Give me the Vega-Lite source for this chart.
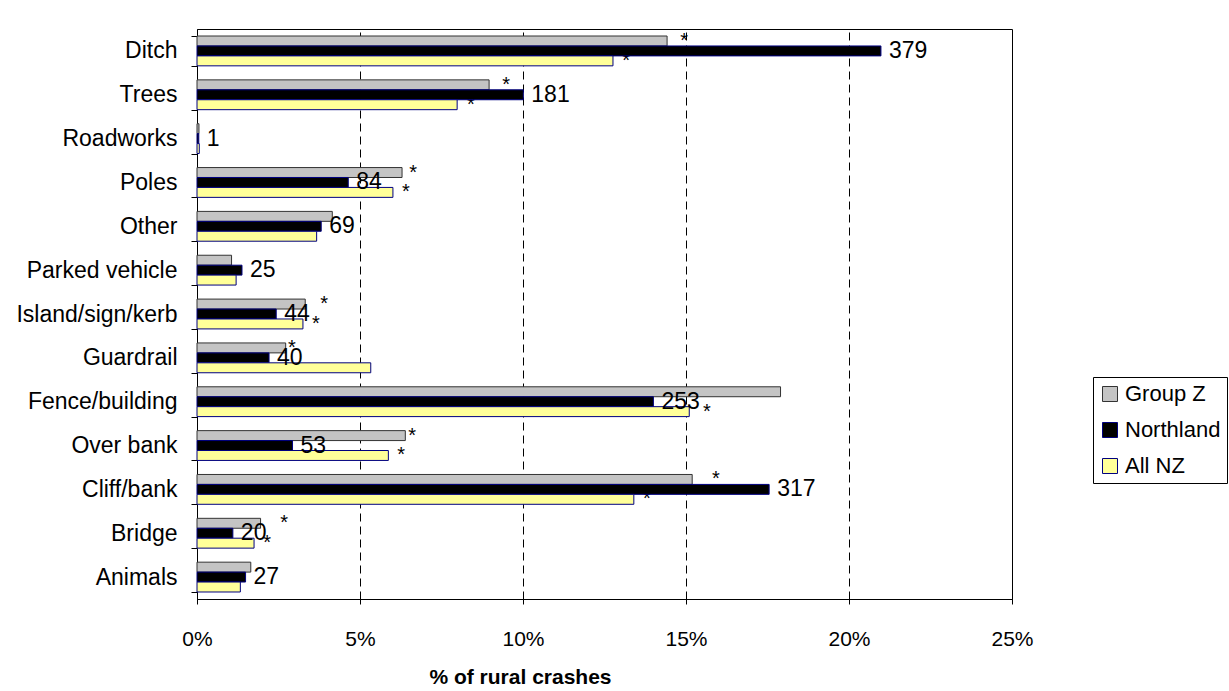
{
  "$schema": "https://vega.github.io/schema/vega-lite/v6.json",
  "width": 815,
  "height": 570,
  "autosize": {"type": "none"},
  "padding": {"left": 197, "top": 29, "right": 217, "bottom": 92},
  "background": "#ffffff",
  "config": {
    "font": "Liberation Sans",
    "view": {"stroke": "#000000", "strokeWidth": 1},
    "axis": {
      "domainColor": "#000000",
      "tickColor": "#000000",
      "labelColor": "#000000",
      "titleColor": "#000000",
      "labelFont": "Liberation Sans",
      "titleFont": "Liberation Sans",
      "domainWidth": 1,
      "tickWidth": 1
    },
    "legend": {
      "orient": "none",
      "legendX": 896,
      "legendY": 348,
      "strokeColor": "#000000",
      "fillColor": "#ffffff",
      "padding": 6,
      "symbolType": "square",
      "symbolSize": 225,
      "symbolStrokeWidth": 1,
      "labelFont": "Liberation Sans",
      "labelFontSize": 22,
      "labelColor": "#000000",
      "labelOffset": 4,
      "rowPadding": 14,
      "labelLimit": 300
    }
  },
  "datasets": {
    "bars": [
      {"cause": "Ditch", "series": "Group Z", "pct": 14.42},
      {"cause": "Ditch", "series": "Northland", "pct": 20.98, "count": 379},
      {"cause": "Ditch", "series": "All NZ", "pct": 12.76},
      {"cause": "Trees", "series": "Group Z", "pct": 8.96},
      {"cause": "Trees", "series": "Northland", "pct": 10.01, "count": 181},
      {"cause": "Trees", "series": "All NZ", "pct": 7.98},
      {"cause": "Roadworks", "series": "Group Z", "pct": 0.06},
      {"cause": "Roadworks", "series": "Northland", "pct": 0.055, "count": 1},
      {"cause": "Roadworks", "series": "All NZ", "pct": 0.07},
      {"cause": "Poles", "series": "Group Z", "pct": 6.29},
      {"cause": "Poles", "series": "Northland", "pct": 4.64, "count": 84},
      {"cause": "Poles", "series": "All NZ", "pct": 6.01},
      {"cause": "Other", "series": "Group Z", "pct": 4.15},
      {"cause": "Other", "series": "Northland", "pct": 3.81, "count": 69},
      {"cause": "Other", "series": "All NZ", "pct": 3.67},
      {"cause": "Parked vehicle", "series": "Group Z", "pct": 1.06},
      {"cause": "Parked vehicle", "series": "Northland", "pct": 1.38, "count": 25},
      {"cause": "Parked vehicle", "series": "All NZ", "pct": 1.2},
      {"cause": "Island/sign/kerb", "series": "Group Z", "pct": 3.32},
      {"cause": "Island/sign/kerb", "series": "Northland", "pct": 2.43, "count": 44},
      {"cause": "Island/sign/kerb", "series": "All NZ", "pct": 3.25},
      {"cause": "Guardrail", "series": "Group Z", "pct": 2.72},
      {"cause": "Guardrail", "series": "Northland", "pct": 2.21, "count": 40},
      {"cause": "Guardrail", "series": "All NZ", "pct": 5.33},
      {"cause": "Fence/building", "series": "Group Z", "pct": 17.9},
      {"cause": "Fence/building", "series": "Northland", "pct": 14.0, "count": 253},
      {"cause": "Fence/building", "series": "All NZ", "pct": 15.1},
      {"cause": "Over bank", "series": "Group Z", "pct": 6.39},
      {"cause": "Over bank", "series": "Northland", "pct": 2.93, "count": 53},
      {"cause": "Over bank", "series": "All NZ", "pct": 5.87},
      {"cause": "Cliff/bank", "series": "Group Z", "pct": 15.19},
      {"cause": "Cliff/bank", "series": "Northland", "pct": 17.55, "count": 317},
      {"cause": "Cliff/bank", "series": "All NZ", "pct": 13.4},
      {"cause": "Bridge", "series": "Group Z", "pct": 1.95},
      {"cause": "Bridge", "series": "Northland", "pct": 1.1, "count": 20},
      {"cause": "Bridge", "series": "All NZ", "pct": 1.75},
      {"cause": "Animals", "series": "Group Z", "pct": 1.65},
      {"cause": "Animals", "series": "Northland", "pct": 1.49, "count": 27},
      {"cause": "Animals", "series": "All NZ", "pct": 1.33}
    ],
    "stars": [
      {"cause": "Ditch", "series": "Group Z", "pct": 14.94},
      {"cause": "Ditch", "series": "All NZ", "pct": 13.16},
      {"cause": "Trees", "series": "Group Z", "pct": 9.48},
      {"cause": "Trees", "series": "All NZ", "pct": 8.4},
      {"cause": "Poles", "series": "Group Z", "pct": 6.63},
      {"cause": "Poles", "series": "All NZ", "pct": 6.41},
      {"cause": "Island/sign/kerb", "series": "Group Z", "pct": 3.9},
      {"cause": "Island/sign/kerb", "series": "All NZ", "pct": 3.65},
      {"cause": "Guardrail", "series": "Group Z", "pct": 2.91},
      {"cause": "Fence/building", "series": "All NZ", "pct": 15.64},
      {"cause": "Over bank", "series": "Group Z", "pct": 6.6},
      {"cause": "Over bank", "series": "All NZ", "pct": 6.26},
      {"cause": "Cliff/bank", "series": "Group Z", "pct": 15.92},
      {"cause": "Cliff/bank", "series": "All NZ", "pct": 13.8},
      {"cause": "Bridge", "series": "Group Z", "pct": 2.67},
      {"cause": "Bridge", "series": "All NZ", "pct": 2.15}
    ]
  },
  "encoding": {
    "x": {
      "field": "pct",
      "type": "quantitative",
      "scale": {"domain": [0, 25], "nice": false},
      "axis": {
        "title": "% of rural crashes",
        "values": [0, 5, 10, 15, 20, 25],
        "labelExpr": "datum.value + '%'",
        "labelFlush": false,
        "grid": true,
        "gridColor": "#000000",
        "gridDash": [8, 5],
        "gridWidth": 1,
        "tickSize": 5,
        "labelFontSize": 21,
        "labelPadding": 24,
        "titleFontSize": 21,
        "titleFontWeight": "bold",
        "titleX": 323,
        "titleY": 78,
        "titleBaseline": "middle",
        "titleAlign": "center"
      }
    },
    "y": {
      "field": "cause",
      "type": "nominal",
      "scale": {
        "domain": ["Ditch", "Trees", "Roadworks", "Poles", "Other", "Parked vehicle", "Island/sign/kerb", "Guardrail", "Fence/building", "Over bank", "Cliff/bank", "Bridge", "Animals"],
        "paddingInner": 0.32,
        "paddingOuter": 0.16
      },
      "axis": {
        "title": null,
        "tickBand": "extent",
        "tickSize": 6,
        "labelFontSize": 23,
        "labelPadding": 14,
        "grid": false
      }
    },
    "yOffset": {
      "field": "series",
      "type": "nominal",
      "scale": {"domain": ["Group Z", "Northland", "All NZ"], "paddingInner": 0, "paddingOuter": 0}
    }
  },
  "layer": [
    {
      "data": {"name": "stars"},
      "mark": {"type": "text", "text": "*", "align": "center", "baseline": "middle", "fontSize": 20, "color": "#000000"}
    },
    {
      "data": {"name": "bars"},
      "mark": {"type": "bar", "orient": "horizontal", "strokeWidth": 1},
      "encoding": {
        "fill": {
          "field": "series",
          "type": "nominal",
          "scale": {"domain": ["Group Z", "Northland", "All NZ"], "range": ["#c4c4c4", "#000000", "#ffff99"]},
          "legend": {"title": null}
        },
        "stroke": {
          "field": "series",
          "type": "nominal",
          "scale": {"domain": ["Group Z", "Northland", "All NZ"], "range": ["#333333", "#000080", "#000080"]},
          "legend": {"title": null}
        }
      }
    },
    {
      "data": {"name": "bars"},
      "transform": [{"filter": "datum.series === 'Northland'"}],
      "mark": {"type": "text", "align": "left", "baseline": "middle", "dx": 8, "fontSize": 23, "color": "#000000"},
      "encoding": {
        "text": {"field": "count", "type": "quantitative"}
      }
    }
  ]
}
